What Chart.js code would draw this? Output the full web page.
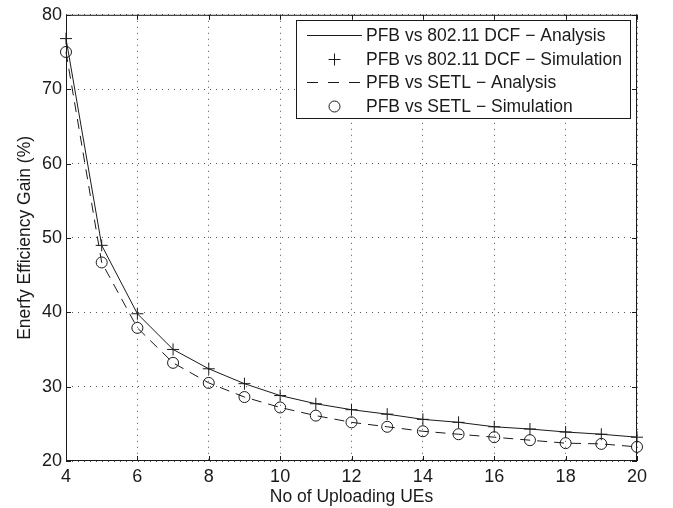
<!DOCTYPE html>
<html>
<head>
<meta charset="utf-8">
<script src="https://cdn.jsdelivr.net/npm/chart.js@4.4.1/dist/chart.umd.min.js"></script>
<style>
  html, body { margin: 0; padding: 0; background: #fff; }
  #wrap { width: 673px; height: 508px; position: relative; }
</style>
</head>
<body>
<div id="wrap"><canvas id="c" width="673" height="508"></canvas></div>
<script>
// valores
const ues = [4, 5, 6, 7, 8, 9, 10, 11, 12, 13, 14, 15, 16, 17, 18, 19, 20];
const dcfAnalysis = [76.8, 49.0, 39.8, 35.0, 32.4, 30.4, 28.8, 27.7, 26.9, 26.3, 25.6, 25.2, 24.6, 24.3, 23.9, 23.6, 23.2];
const dcfSim      = [76.8, 49.0, 39.8, 35.0, 32.4, 30.4, 28.8, 27.7, 26.9, 26.3, 25.6, 25.2, 24.6, 24.3, 23.9, 23.6, 23.2];
const setlAnalysis = [75.0, 46.7, 37.9, 33.2, 30.5, 28.6, 27.2, 26.1, 25.2, 24.6, 24.0, 23.6, 23.2, 22.8, 22.4, 22.3, 21.9];
const setlSim      = [75.0, 46.7, 37.9, 33.2, 30.5, 28.6, 27.2, 26.1, 25.2, 24.6, 24.0, 23.6, 23.2, 22.8, 22.4, 22.3, 21.9];
const labels = [
  'PFB vs 802.11 DCF \u2212 Analysis',
  'PFB vs 802.11 DCF \u2212 Simulation',
  'PFB vs SETL \u2212 Analysis',
  'PFB vs SETL \u2212 Simulation'
];
const xTicks = [4, 6, 8, 10, 12, 14, 16, 18, 20];
const yTicks = [20, 30, 40, 50, 60, 70, 80];

const INK = '#1a1a1a';
const FONT = "'Liberation Sans', Arial, sans-serif";
const pts = arr => arr.map((v, i) => ({ x: ues[i], y: v }));

// marco con ticks hacia dentro (estilo MATLAB)
const framePlugin = {
  id: 'frame',
  afterDatasetsDraw(chart) {
    const { ctx, chartArea: a, scales: { x, y } } = chart;
    ctx.save();
    ctx.strokeStyle = INK;
    ctx.lineWidth = 1;
    ctx.strokeRect(a.left + 0.5, a.top + 0.5, a.right - a.left - 1, a.bottom - a.top - 1);
    const L = 5;
    ctx.beginPath();
    xTicks.forEach(t => {
      const px = Math.round(x.getPixelForValue(t)) + 0.5;
      ctx.moveTo(px, a.bottom); ctx.lineTo(px, a.bottom - L);
      ctx.moveTo(px, a.top); ctx.lineTo(px, a.top + L);
    });
    yTicks.forEach(t => {
      const py = Math.round(y.getPixelForValue(t)) + 0.5;
      ctx.moveTo(a.left, py); ctx.lineTo(a.left + L, py);
      ctx.moveTo(a.right, py); ctx.lineTo(a.right - L, py);
    });
    ctx.stroke();
    ctx.restore();
  }
};

// leyenda dentro del area del grafico
const legendPlugin = {
  id: 'boxLegend',
  afterDraw(chart) {
    const { ctx } = chart;
    const bx = 296, by = 20, bw = 334, bh = 98;
    const rows = [35, 59, 82, 106];
    const s0 = 307, s1 = 362;
    ctx.save();
    ctx.fillStyle = '#fff';
    ctx.fillRect(bx, by, bw, bh);
    ctx.strokeStyle = INK;
    ctx.lineWidth = 1;
    ctx.strokeRect(bx + 0.5, by + 0.5, bw, bh);
    chart.data.datasets.forEach((ds, i) => {
      const ry = rows[i] + 0.5;
      ctx.strokeStyle = INK;
      ctx.lineWidth = 1;
      if (ds.showLine) {
        ctx.setLineDash(ds.borderDash ? [11, 10] : []);
        ctx.beginPath(); ctx.moveTo(s0, ry); ctx.lineTo(s1, ry); ctx.stroke();
        ctx.setLineDash([]);
      } else if (ds.pointStyle === 'cross') {
        const cx = (s0 + s1) / 2, r = 6;
        ctx.beginPath();
        ctx.moveTo(cx - r, ry); ctx.lineTo(cx + r, ry);
        ctx.moveTo(cx, ry - r); ctx.lineTo(cx, ry + r);
        ctx.stroke();
      } else {
        ctx.beginPath(); ctx.arc((s0 + s1) / 2, ry, 5.5, 0, Math.PI * 2); ctx.stroke();
      }
      ctx.fillStyle = INK;
      ctx.font = '17.5px ' + FONT;
      ctx.textAlign = 'left';
      ctx.textBaseline = 'middle';
      ctx.fillText(labels[i], 366, rows[i] + 1);
    });
    ctx.restore();
  }
};

new Chart(document.getElementById('c'), {
  type: 'scatter',
  data: {
    datasets: [
      { label: labels[0], data: pts(dcfAnalysis), showLine: true, borderColor: INK, borderWidth: 1, pointRadius: 0, tension: 0, clip: false },
      { label: labels[1], data: pts(dcfSim), showLine: false, pointStyle: 'cross', pointRadius: 6, borderColor: INK, pointBorderWidth: 1, clip: false },
      { label: labels[2], data: pts(setlAnalysis), showLine: true, borderColor: INK, borderWidth: 1, borderDash: [10, 7], pointRadius: 0, tension: 0, clip: false },
      { label: labels[3], data: pts(setlSim), showLine: false, pointStyle: 'circle', pointRadius: 5.5, borderColor: INK, backgroundColor: 'rgba(0,0,0,0)', pointBorderWidth: 1, clip: false }
    ]
  },
  options: {
    responsive: false,
    animation: false,
    layout: { padding: { top: 11, right: 36, left: 0, bottom: 0 } },
    plugins: { legend: { display: false }, tooltip: { enabled: false } },
    scales: {
      x: {
        type: 'linear', min: 4, max: 20,
        afterBuildTicks: s => { s.ticks = xTicks.map(v => ({ value: v })); },
        afterFit: s => { s.height = 47; },
        grid: { color: '#555', lineWidth: 1, drawTicks: false },
        border: { display: false, dash: [1, 5] },
        ticks: { color: INK, font: { family: FONT, size: 18 }, padding: 5, maxRotation: 0 },
        title: { display: true, text: 'No of Uploading UEs', color: INK, font: { family: FONT, size: 17.5 }, padding: { top: 0, bottom: 0 } }
      },
      y: {
        type: 'linear', min: 20, max: 80,
        afterBuildTicks: s => { s.ticks = yTicks.map(v => ({ value: v })); },
        afterFit: s => { s.width = 66; },
        grid: { color: '#555', lineWidth: 1, drawTicks: false },
        border: { display: false, dash: [1, 5] },
        ticks: { color: INK, font: { family: FONT, size: 18 }, padding: 4 },
        title: { display: true, text: 'Enerfy Efficiency Gain (%)', color: INK, font: { family: FONT, size: 17.5 }, padding: { top: 15, bottom: 0 } }
      }
    }
  },
  plugins: [framePlugin, legendPlugin]
});
</script>
</body>
</html>
